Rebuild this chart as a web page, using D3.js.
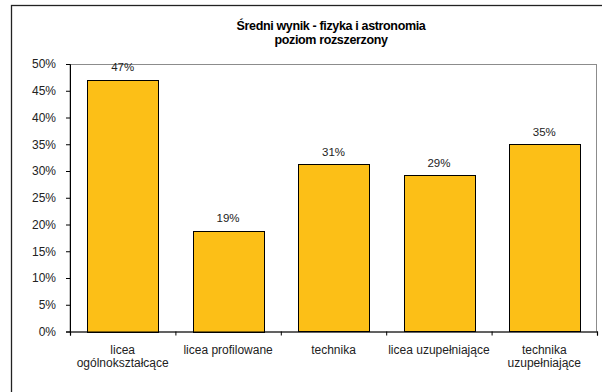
<!DOCTYPE html>
<html><head><meta charset="utf-8">
<script src="https://cdn.jsdelivr.net/npm/d3@7"></script>
<style>body{margin:0;background:#fff}svg{display:block;font-family:Arial,"Liberation Sans",sans-serif}</style>
</head><body><svg id="c" width="602" height="392"></svg>
<script>
const categories = [["licea","ogólnokształcące"],["licea profilowane"],["technika"],["licea uzupełniające"],["technika","uzupełniające"]];
const values = [47.1, 18.8, 31.3, 29.2, 35.0];
const valueLabels = ["47%","19%","31%","29%","35%"];
const yTicks = [0,5,10,15,20,25,30,35,40,45,50];
const titleLines = ["Średni wynik  - fizyka i astronomia","poziom rozszerzony"];

const svg = d3.select("#c");
const m = {l:70, r:597, t:64, b:331.5};
svg.append("rect").attr("x",11.5).attr("y",5.5).attr("width",700).attr("height",500)
  .attr("fill","#fff").attr("stroke","#222").attr("stroke-width",1.3);

const x = d3.scaleBand().domain(d3.range(categories.length)).range([m.l,m.r]).paddingInner(0.33).paddingOuter(0.165);
const y = d3.scaleLinear().domain([0,50]).range([m.b,m.t]);

// plot area border
svg.append("rect").attr("x",m.l).attr("y",m.t+0.5).attr("width",m.r-m.l-0.5).attr("height",m.b-m.t)
  .attr("fill","none").attr("stroke","#8c8c8c").attr("stroke-width",1);

// bars
svg.selectAll("rect.bar").data(values).join("rect").attr("class","bar")
  .attr("x",(d,i)=>Math.round(x(i))+0.5).attr("y",d=>Math.round(y(d))+0.5)
  .attr("width",Math.round(x.bandwidth())).attr("height",d=>Math.round(y(0)-y(d)))
  .attr("fill","#FCBF17").attr("stroke","#000").attr("stroke-width",1);

// value labels
svg.selectAll("text.vl").data(values).join("text").attr("class","vl")
  .attr("x",(d,i)=>x(i)+x.bandwidth()/2).attr("y",d=>y(d)-8.5)
  .attr("text-anchor","middle").attr("font-size",11.5).attr("fill","#222")
  .text((d,i)=>valueLabels[i]);

// y axis
const ya = svg.append("g").attr("transform",`translate(${m.l},0)`)
  .call(d3.axisLeft(y).tickValues(yTicks).tickSize(4).tickFormat(d=>d+"%"));
ya.select(".domain").attr("stroke","#000");
ya.selectAll(".tick line").attr("stroke","#000");
ya.selectAll("text").attr("font-size",12).attr("fill","#222").attr("font-family","Arial,'Liberation Sans',sans-serif").attr("x",-14);

// x axis
const xb = d3.scaleLinear().domain([0,categories.length]).range([m.l,m.r]);
const xa = svg.append("g").attr("transform",`translate(0,${m.b})`)
  .call(d3.axisBottom(xb).tickValues(d3.range(categories.length+1)).tickSize(4).tickFormat(""));
xa.select(".domain").attr("stroke","#000").attr("stroke-width",1.2);
xa.selectAll(".tick line").attr("stroke","#000");

// category labels
categories.forEach((lines,i)=>{
  const t = svg.append("text").attr("x",x(i)+x.bandwidth()/2).attr("y",354)
    .attr("text-anchor","middle").attr("font-size",12).attr("fill","#222");
  lines.forEach((l,j)=>t.append("tspan").attr("x",x(i)+x.bandwidth()/2).attr("dy",j?13:0).text(l));
});

// title
const tx = 331;
const tt = svg.append("text").attr("x",tx).attr("y",30).attr("text-anchor","middle")
  .attr("font-size",12.5).attr("font-weight","bold").attr("letter-spacing",-0.35).attr("fill","#000");
titleLines.forEach((l,j)=>tt.append("tspan").attr("x",tx).attr("dy",j?14:0).text(l));
</script></body></html>
